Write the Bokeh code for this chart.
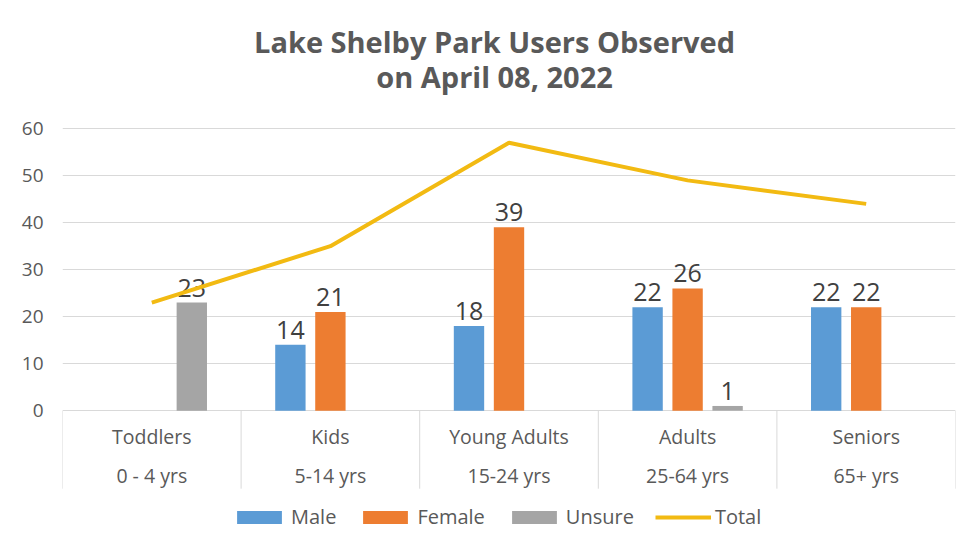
from bokeh.plotting import figure
from bokeh.models import ColumnDataSource, Range1d, FixedTicker, Legend, LegendItem
from bokeh.transform import dodge
from bokeh.core.properties import value
from bokeh.embed import file_html
from bokeh.resources import INLINE

# ---- data ----
title_lines = ["Lake Shelby Park Users Observed", "on April 08, 2022"]
groups = ["Toddlers", "Kids", "Young Adults", "Adults", "Seniors"]
ages = ["0 - 4 yrs", "5-14 yrs", "15-24 yrs", "25-64 yrs", "65+ yrs"]
male = [None, 14, 18, 22, 22]
female = [None, 21, 39, 26, 22]
unsure = [23, None, None, 1, None]
total = [23, 35, 57, 49, 44]
y_ticks = [0, 10, 20, 30, 40, 50, 60]

FONT = "Open Sans"
TXT = "#595959"
GRID = "#D9D9D9"
C_MALE, C_FEMALE, C_UNSURE, C_TOTAL = "#5B9BD5", "#ED7D31", "#A5A5A5", "#F2BA12"

n = len(groups)
centers = [i + 0.5 for i in range(n)]
TABLE_BOTTOM = -16.6
Y_MIN, Y_MAX = -27.2, 87.27


def series_source(vals):
    xs, ys, labs = [], [], []
    for c, v in zip(centers, vals):
        if v is not None:
            xs.append(c)
            ys.append(v)
            labs.append(str(v))
    return ColumnDataSource(dict(x=xs, y=ys, label=labs))


p = figure(width=963, height=547, output_backend="svg", toolbar_location=None,
           x_range=Range1d(0, n), y_range=Range1d(Y_MIN, Y_MAX),
           min_border_left=62, min_border_right=8, min_border_top=0,
           min_border_bottom=9)
p.outline_line_color = None
p.background_fill_color = "white"
p.border_fill_color = "white"

# chart title (two centred lines at the top of the chart area)
p.text(x=[2.419, 2.419], y=[78.55, 71.2], text=title_lines,
       text_align="center", text_baseline="alphabetic",
       text_font=value(FONT), text_font_size=value("29px"), text_font_style="bold",
       text_color=TXT)

# axes
p.xaxis.visible = False
p.xgrid.visible = False
p.yaxis.ticker = FixedTicker(ticks=y_ticks)
p.ygrid.ticker = FixedTicker(ticks=y_ticks)
p.ygrid.grid_line_color = GRID
p.yaxis.axis_line_color = None
p.yaxis.major_tick_line_color = None
p.yaxis.minor_tick_line_color = None
p.yaxis.major_tick_out = 0
p.yaxis.major_label_standoff = 19
p.yaxis.major_label_text_font = FONT
p.yaxis.major_label_text_font_size = "19px"
p.yaxis.major_label_text_color = TXT

# category table under the plot
bounds = list(range(n + 1))
p.segment(x0=bounds, y0=[0] * len(bounds), x1=bounds, y1=[TABLE_BOTTOM] * len(bounds),
          line_color=GRID, line_width=1)
p.text(x=centers, y=[-5.5] * n, text=groups, text_align="center", text_baseline="middle",
       text_font=value(FONT), text_font_size=value("19.5px"), text_color=TXT)
p.text(x=centers, y=[-13.8] * n, text=ages, text_align="center", text_baseline="middle",
       text_font=value(FONT), text_font_size=value("19.5px"), text_color=TXT)

# bars
OFF = 0.224
W = 0.17
items = []
for vals, off, col, name in [(male, -OFF, C_MALE, "Male"),
                             (female, 0.0, C_FEMALE, "Female"),
                             (unsure, OFF, C_UNSURE, "Unsure")]:
    src = series_source(vals)
    r = p.vbar(x=dodge("x", off), top="y", width=W, source=src,
               fill_color=col, line_color=None)
    p.text(x=dodge("x", off), y="y", text="label", source=src,
           text_align="center", text_baseline="bottom", y_offset=-6,
           text_font=value(FONT), text_font_size=value("25px"), text_color="#404040")
    items.append(LegendItem(label=name, renderers=[r]))

# total line
tsrc = ColumnDataSource(dict(x=centers, y=total))
lr = p.line(x="x", y="y", source=tsrc, line_color=C_TOTAL, line_width=4)
items.append(LegendItem(label="Total", renderers=[lr]))

legend = Legend(items=items, orientation="horizontal", location=(169, 8),
                glyph_width=56, glyph_height=16, label_standoff=4, spacing=21,
                padding=0, margin=0, border_line_color=None,
                background_fill_alpha=0,
                label_text_font=FONT, label_text_font_size="20px",
                label_text_color=TXT)
p.add_layout(legend, "center")

open("out.html", "w").write(file_html(p, INLINE))
